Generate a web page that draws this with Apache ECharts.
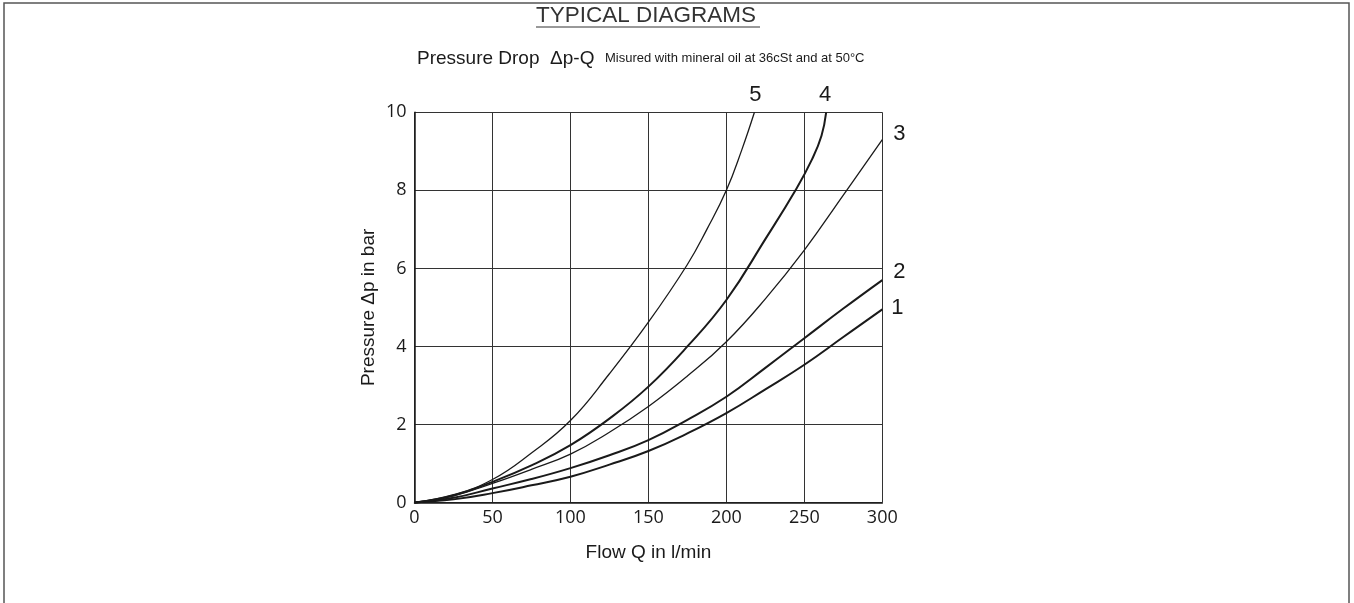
<!DOCTYPE html>
<html>
<head>
<meta charset="utf-8">
<script src="https://cdn.jsdelivr.net/npm/echarts@6/dist/echarts.min.js"></script>
<style>
  html, body { margin: 0; padding: 0; background: #fff; }
  #chart { width: 1354px; height: 603px; }
</style>
</head>
<body>
<div id="chart"></div>
<script>
// flow Q (l/min) and pressure drop (bar)
const curve1 = [[0, 0], [25, 0.08], [50, 0.24], [75, 0.44], [100, 0.66], [125, 0.97], [150, 1.32], [175, 1.77], [200, 2.29], [225, 2.9], [250, 3.53], [275, 4.24], [300, 4.95]]
const curve2 = [[0, 0], [25, 0.12], [50, 0.36], [75, 0.6], [100, 0.88], [125, 1.21], [150, 1.6], [175, 2.12], [200, 2.71], [225, 3.45], [250, 4.21], [275, 4.97], [300, 5.7]]
const curve3 = [[0, 0], [25, 0.17], [50, 0.49], [75, 0.85], [100, 1.24], [125, 1.8], [150, 2.46], [175, 3.24], [200, 4.12], [225, 5.22], [250, 6.47], [275, 7.88], [300, 9.3]]
const curve4 = [[0, 0], [25, 0.18], [50, 0.53], [75, 0.95], [100, 1.47], [125, 2.15], [150, 2.97], [175, 4.0], [200, 5.19], [225, 6.75], [245, 8.05], [255, 8.8], [261, 9.4], [264, 10]]
const curve5 = [[0, 0], [25, 0.2], [50, 0.59], [75, 1.27], [100, 2.1], [125, 3.3], [150, 4.62], [175, 6.1], [187.5, 7.0], [200, 8.0], [210, 9.05], [218, 10]]

const curveNames = ['1', '2', '3', '4', '5']
const curveData = [curve1, curve2, curve3, curve4, curve5]
const curveWidths = [2, 2, 1.3, 2, 1.3]

const xTicks = { min: 0, max: 300, step: 50 }
const yTicks = { min: 0, max: 10, step: 2 }

// where each curve number sits relative to the curve's last point
const labelOffsets = [[15, -1.5], [17, -8], [17, -6], [-1, -17], [1, -17]]

const ink = '#1a1a1a'

function createSeries() {
  return curveData.map((pts, i) => ({
    name: curveNames[i],
    type: 'line',
    data: pts,
    smooth: 0.45,
    showSymbol: false,
    symbol: 'none',
    clip: false,
    lineStyle: { color: ink, width: curveWidths[i] },
    endLabel: {
      show: true,
      formatter: curveNames[i],
      distance: 0,
      align: 'center',
      verticalAlign: 'middle',
      offset: labelOffsets[i],
      fontSize: 22,
      fontFamily: 'Liberation Sans',
      color: ink,
    },
    emphasis: { disabled: true },
  }))
}

const chart = echarts.init(document.getElementById('chart'))

chart.setOption({
  animation: false,
  backgroundColor: '#fff',
  title: [
    {
      text: 'TYPICAL DIAGRAMS',
      left: 536,
      top: 4,
      padding: 0,
      textStyle: { fontFamily: 'Liberation Sans', fontWeight: 'normal', fontSize: 22.5, color: '#333' },
    },
    {
      text: '{a|Pressure Drop  Δp-Q  }{b|Misured with mineral oil at 36cSt and at 50°C}',
      left: 417,
      top: 49,
      padding: 0,
      textStyle: {
        rich: {
          a: { fontFamily: 'Liberation Sans', fontWeight: 'normal', fontSize: 19, color: ink },
          b: { fontFamily: 'Liberation Sans', fontWeight: 'normal', fontSize: 13, color: ink },
        },
      },
    },
  ],
  graphic: [
    {
      type: 'rect',
      shape: { x: 4, y: 3, width: 1345, height: 620 },
      style: { fill: 'none', stroke: '#555', lineWidth: 1.5 },
      silent: true,
    },
    {
      type: 'line',
      shape: { x1: 536, y1: 27, x2: 760, y2: 27 },
      style: { stroke: '#333', lineWidth: 1 },
      silent: true,
    },
  ],
  grid: { left: 414.5, right: 471.7, top: 112.3, bottom: 100.5, containLabel: false },
  xAxis: {
    type: 'value',
    min: xTicks.min,
    max: xTicks.max,
    interval: xTicks.step,
    name: 'Flow Q in l/min',
    nameLocation: 'middle',
    nameGap: 41,
    nameTextStyle: { fontFamily: 'Liberation Sans', fontSize: 19, color: ink },
    axisLine: { lineStyle: { color: ink, width: 1.5 } },
    axisTick: { show: false },
    axisLabel: { fontFamily: 'Open Sans', fontSize: 18, color: ink, margin: 6 },
    splitLine: { show: true, lineStyle: { color: '#333', width: 1 } },
  },
  yAxis: {
    type: 'value',
    min: yTicks.min,
    max: yTicks.max,
    interval: yTicks.step,
    name: 'Pressure Δp in bar',
    nameLocation: 'middle',
    nameGap: 36,
    nameTextStyle: { fontFamily: 'Liberation Sans', fontSize: 19, color: ink },
    axisLine: { show: true, lineStyle: { color: ink, width: 1.5 } },
    axisTick: { show: false },
    axisLabel: { fontFamily: 'Open Sans', fontSize: 18, color: ink, margin: 8 },
    splitLine: { show: true, lineStyle: { color: '#333', width: 1 } },
  },
  series: createSeries(),
})
</script>
</body>
</html>
